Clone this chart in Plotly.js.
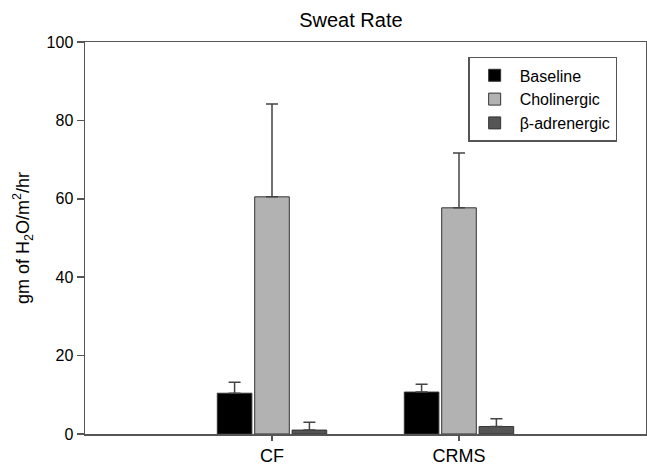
<!DOCTYPE html>
<html>
<head>
<meta charset="utf-8">
<script src="https://cdn.plot.ly/plotly-3.0.1.min.js"></script>
<style>html,body{margin:0;padding:0;background:#fff;}#chart{width:647px;height:466px;}</style>
</head>
<body>
<div id="chart"></div>
<script>
const groups = ["CF", "CRMS"];
const seriesNames = ["Baseline", "Cholinergic", "β-adrenergic"];
const baseline = [10.4, 10.7];
const baselineErr = [2.8, 2.0];
const cholinergic = [60.5, 57.7];
const cholinergicErr = [23.7, 14.0];
const beta = [1.0, 1.9];
const betaErr = [2.0, 2.0];
const yTicks = [0, 20, 40, 60, 80, 100];

const colors = ["#000000", "#b2b2b2", "#555555"];
const values = [baseline, cholinergic, beta];
const errs = [baselineErr, cholinergicErr, betaErr];

const traces = values.map((v, i) => ({
  type: "bar",
  name: seriesNames[i],
  x: [0, 1],
  y: v,
  width: 0.185,
  marker: {color: colors[i], line: {color: "#333", width: 1}},
  error_y: {type: "data", symmetric: false, array: errs[i], arrayminus: [0, 0], color: "#444", thickness: 1.5, width: 6}
}));

const layout = {
  width: 647, height: 466,
  margin: {l: 85, r: 1, t: 42, b: 32},
  paper_bgcolor: "#fff", plot_bgcolor: "#fff",
  barmode: "group", bargap: 0.4, bargroupgap: 0.08,
  font: {family: "Liberation Sans, Arial, sans-serif", color: "#000"},
  title: {text: "Sweat Rate", x: 0.474, xref: "paper", xanchor: "center", y: 0.957, yanchor: "middle", font: {size: 20, color: "#000"}},
  xaxis: {
    range: [-1, 2], tickmode: "array", tickvals: [0, 1], ticktext: groups,
    ticks: "outside", ticklen: 5, tickcolor: "#555", tickwidth: 1.5,
    showline: true, linecolor: "#555", linewidth: 1.5, mirror: true,
    showgrid: false, zeroline: false, tickfont: {size: 18}
  },
  yaxis: {
    range: [0, 100], tickmode: "array", tickvals: yTicks,
    ticks: "outside", ticklen: 7, tickcolor: "#555", tickwidth: 1.5,
    showline: true, linecolor: "#555", linewidth: 1.5, mirror: true,
    showgrid: false, zeroline: false, tickfont: {size: 16},
    title: {text: "gm of H<sub>2</sub>O/m<sup>2</sup>/hr", font: {size: 18}, standoff: 12}
  },
  legend: {
    x: 0.683, y: 0.962, xanchor: "left", yanchor: "top",
    bordercolor: "#555", borderwidth: 1.5, bgcolor: "#fff",
    font: {size: 16}, tracegroupgap: 0, itemwidth: 40
  },
  showlegend: true
};

Plotly.newPlot("chart", traces, layout, {displayModeBar: false, staticPlot: true});
</script>
</body>
</html>
